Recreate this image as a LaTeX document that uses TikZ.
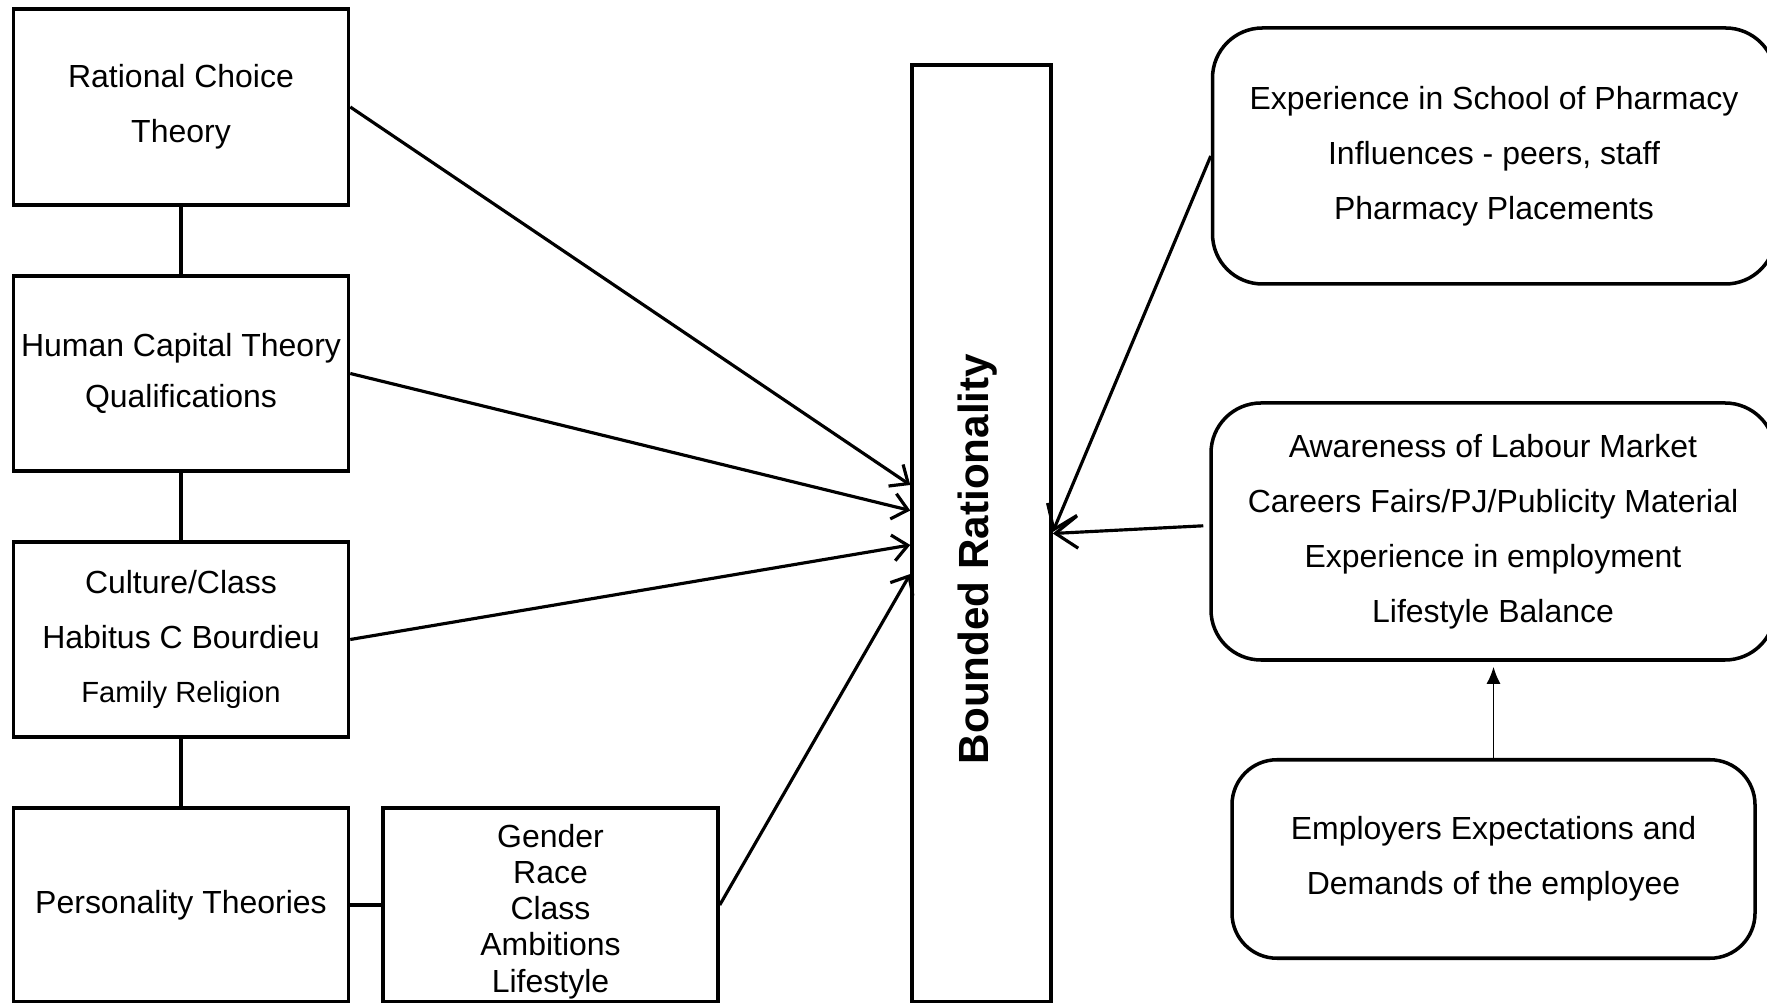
\documentclass[tikz,border=0pt]{standalone}
\usepackage{fontspec}
\setmainfont{Liberation Sans}
\usetikzlibrary{arrows.meta,calc}

\tikzset{
  theory/.style={draw, line width=1pt, minimum width=3.35cm, minimum height=1.95cm,
    inner sep=0pt, align=center, font=\fontsize{9.1}{15.6}\selectfont},
  factor/.style={draw, line width=1pt, rounded corners=0.5cm, inner sep=0pt,
    align=center, font=\fontsize{9.1}{15.6}\selectfont},
  feed/.style={line width=0.9pt, -{Straight Barb[length=1.5mm,width=2.6mm]}},
  feedback/.style={line width=0.9pt, -{Straight Barb[length=2.2mm,width=3.2mm]}},
  joint/.style={line width=1pt}
}

\begin{document}
\begin{tikzpicture}
  \useasboundingbox (0,0) rectangle (17.67,-10.03);
  % Theories on the left
  \node[theory, minimum height=1.96cm] (rc) at (1.81,-1.07) {Rational Choice\\Theory};
  \node[theory, font=\fontsize{9.1}{14.6}\selectfont] (hc) at (1.81,-3.735) {Human Capital Theory\\Qualifications};
  \node[theory] (cc) at (1.81,-6.395) {Culture/Class\\Habitus C Bourdieu\\{\fontsize{8.3}{15.6}\selectfont Family Religion}};
  \node[theory, minimum height=1.94cm] (pt) at (1.81,-9.05) {Personality Theories};
  \node[theory, minimum height=1.94cm, font=\fontsize{9.1}{10.3}\selectfont] (gd) at (5.505,-9.05)
    {\rule{0pt}{3.6mm}Gender\\Race\\Class\\Ambitions\\Lifestyle};
  \draw[joint] (rc) -- (hc) (hc) -- (cc) (cc) -- (pt) (pt) -- (gd);
  % Central column
  \node[draw, line width=1pt, minimum width=1.39cm, minimum height=9.37cm, inner sep=0pt] (br) at (9.815,-5.335) {};
  \node[rotate=90, anchor=base, inner sep=0pt, font=\fontsize{12}{14}\selectfont\bfseries] (brtext) at (9.88,-5.59) {Bounded Rationality};
  % Factors on the right
  \node[factor, minimum width=5.63cm, minimum height=2.56cm] (tr) at (14.94,-1.56)
    {Experience in School of Pharmacy\\Influences - peers, staff\\Pharmacy Placements};
  \node[factor, minimum width=5.64cm, minimum height=2.57cm] (mr) at (14.93,-5.315)
    {Awareness of Labour Market\\Careers Fairs/PJ/Publicity Material\\Experience in employment\\Lifestyle Balance};
  \node[factor, rounded corners=0.45cm, minimum width=5.23cm, minimum height=1.985cm] (bt) at (14.935,-8.59)
    {Employers Expectations and\\Demands of the employee};
  % Arrows into the column
  \draw[feed] (rc.east) -- ($(br.west)+(0,0.485)$);
  \draw[feed] (hc.east) -- ($(br.west)+(0,0.23)$);
  \draw[feed] (cc.east) -- ($(br.west)+(0,-0.115)$);
  \draw[feed] (gd.east) -- ($(br.west)+(0,-0.405)$);
  \draw[feedback] (tr.west) -- ($(br.east)+(0,0.015)$);
  \draw[feedback, shorten <=0.6mm] ([yshift=0.6mm]mr.west) -- (br.east);
  \draw[line width=0.5pt, -{Latex[length=1.7mm,width=1.4mm]}, shorten >=0.5mm] (bt.north) -- (bt.north |- mr.south);
\end{tikzpicture}
\end{document}
